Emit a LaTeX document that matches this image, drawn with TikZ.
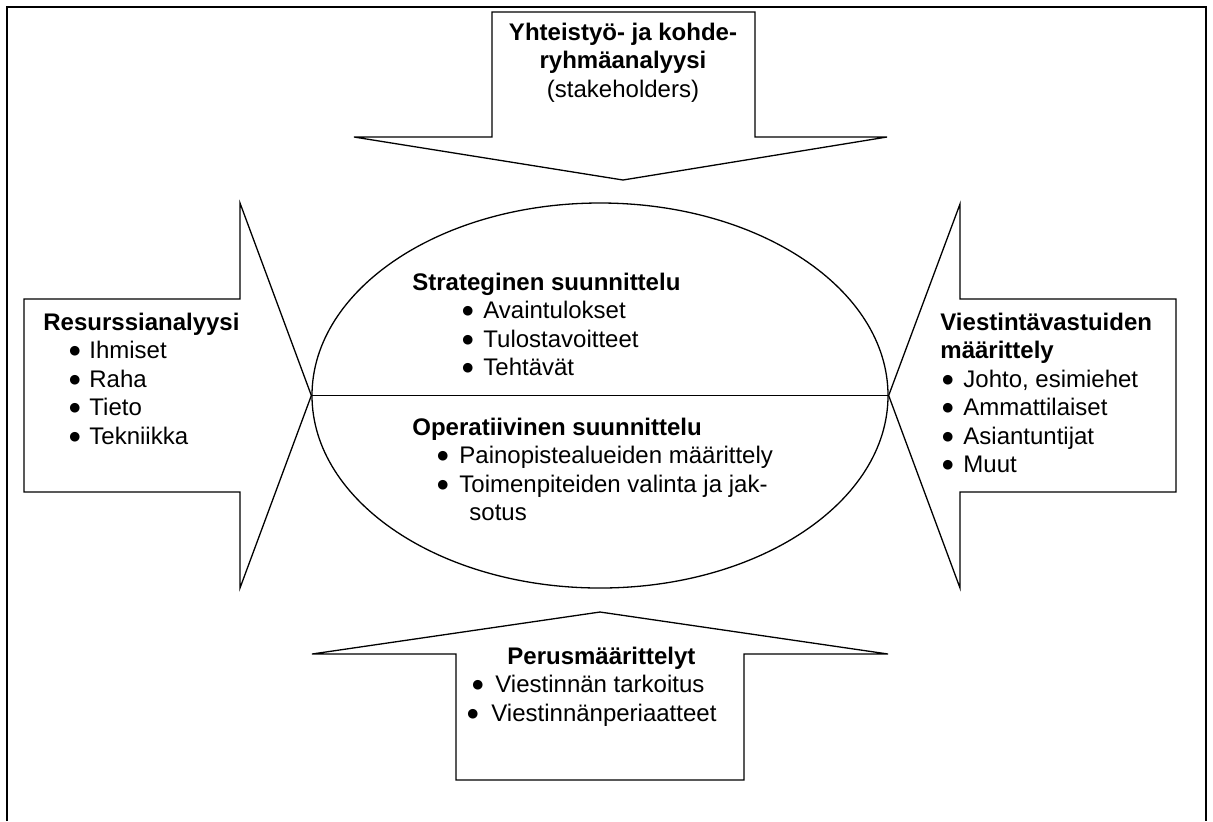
\documentclass[tikz,border=0pt]{standalone}
\usepackage{fontspec}
\setmainfont{Liberation Sans}
\newfontfamily\dotfont{DejaVu Sans}
\usetikzlibrary{calc}
\usetikzlibrary{shapes.geometric}
\tikzset{
    % Thin outline for the block arrows and the plan ellipse
    outline/.style={draw, line width=0.65pt, line join=miter},
%
    % Text is set as a top aligned tabular, so base sits on the first line
    text block/.style={inner sep=0, font=\fontsize{12}{14.25}\selectfont},
%
    % A heavier line for the page frame
    frame line/.style={draw, line width=1.2pt}}
% bullet item, optional argument is the width of the bullet box
\newcommand{\bitem}[2][10.5pt]{%
    \makebox[#1][l]{\raisebox{1.9pt}{\dotfont\fontsize{6.3}{7}\selectfont ●}}#2}

\begin{document}
\begin{tikzpicture}[x=0.5pt, y=-0.5pt]
\useasboundingbox (0,0) rectangle (1213,821);

% frame, lower edge falls outside the page
\path [frame line] (7,821) -- (7,7) -- (1206,7) -- (1206,821);

\node [outline, ellipse, inner sep=0, minimum width=288pt, minimum height=192.5pt]
    (plan) at (600,395.5) {};
\draw [line width=0.65pt] (plan.west) -- (plan.east);

% the four block arrows
\path [outline] (492,12) -- (755,12) -- (755,137) -- (887,137)
    -- (623,180) -- (354,137) -- (492,137) -- cycle;
\path [outline] (24,299) -- (240,299) -- (240,203) -- (plan.west)
    -- (240,588) -- (240,492) -- (24,492) -- cycle;
\path [outline] (1176,299) -- (960,299) -- (960,204) -- (plan.east)
    -- (960,588) -- (960,492) -- (1176,492) -- cycle;
\path [outline] (456,780) -- (456,654) -- (312,654) -- (600,612)
    -- (888,654) -- (744,654) -- (744,780) -- cycle;

\node [text block, anchor=base] (stakeholders) at (623,40)
    {\begin{tabular}[t]{@{}c@{}}
     \textbf{Yhteistyö- ja kohde-}\\
     \textbf{ryhmäanalyysi}\\
     (stakeholders)
     \end{tabular}};

\node [text block, anchor=base west] (resources) at (43,330)
    {\begin{tabular}[t]{@{}l@{}}
     \textbf{Resurssianalyysi}\\
     \hspace*{13pt}\bitem[10pt]{Ihmiset}\\
     \hspace*{13pt}\bitem[10pt]{Raha}\\
     \hspace*{13pt}\bitem[10pt]{Tieto}\\
     \hspace*{13pt}\bitem[10pt]{Tekniikka}
     \end{tabular}};

\node [text block, anchor=base west] (roles) at (940,330)
    {\begin{tabular}[t]{@{}l@{}}
     \textbf{Viestintävastuiden}\\
     \textbf{määrittely}\\
     \hspace*{1pt}\bitem{Johto, esimiehet}\\
     \hspace*{1pt}\bitem{Ammattilaiset}\\
     \hspace*{1pt}\bitem{Asiantuntijat}\\
     \hspace*{1pt}\bitem{Muut}
     \end{tabular}};

\node [text block, anchor=base west] (strategic) at (412,290)
    {\begin{tabular}[t]{@{}l@{}}
     \textbf{Strateginen suunnittelu}\\
     \hspace*{25pt}\bitem{Avaintulokset}\\
     \hspace*{25pt}\bitem{Tulostavoitteet}\\
     \hspace*{25pt}\bitem{Tehtävät}
     \end{tabular}};

\node [text block, anchor=base west] (operative) at (412,435)
    {\begin{tabular}[t]{@{}l@{}}
     \textbf{Operatiivinen suunnittelu}\\
     \hspace*{12.5pt}\bitem[11pt]{Painopistealueiden määrittely}\\
     \hspace*{12.5pt}\bitem[11pt]{Toimenpiteiden valinta ja jak-}\\
     \hspace*{28.5pt}sotus
     \end{tabular}};

\node [text block, anchor=base west] (basics) at (467,664)
    {\begin{tabular}[t]{@{}l@{}}
     \hspace*{20pt}\textbf{Perusmäärittelyt}\\
     \hspace*{2.5pt}\bitem[11.5pt]{Viestinnän tarkoitus}\\
     \bitem[12pt]{Viestinnänperiaatteet}
     \end{tabular}};

\end{tikzpicture}
\end{document}
